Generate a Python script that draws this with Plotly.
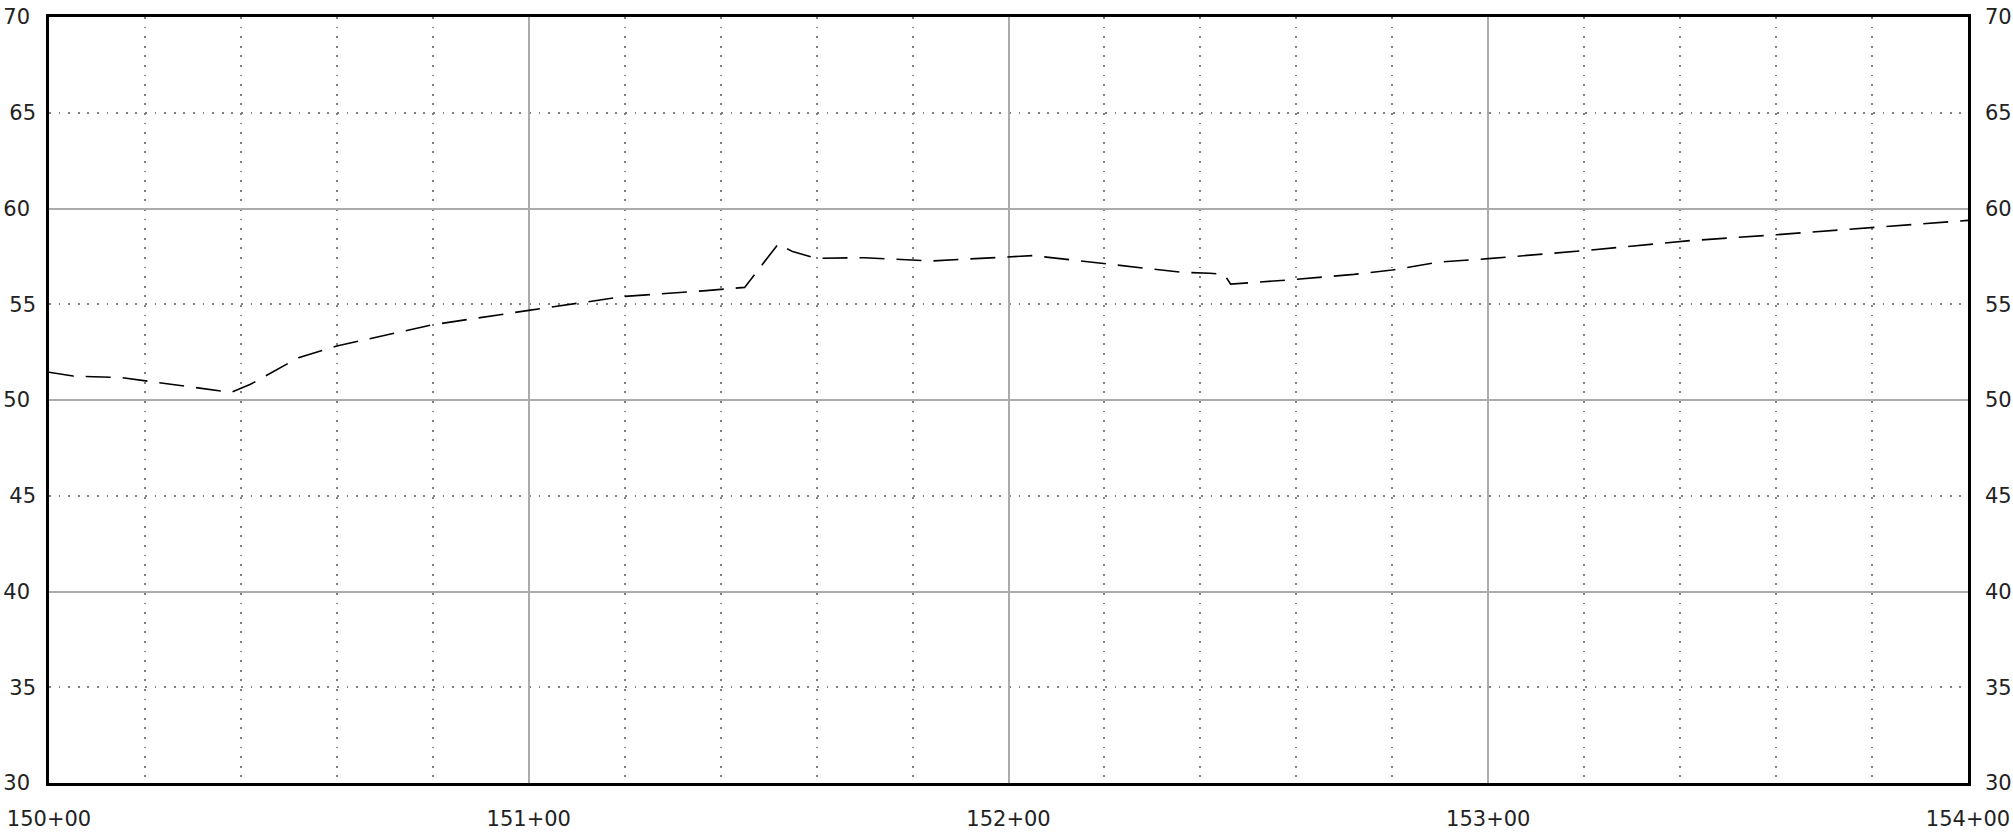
import plotly.graph_objects as go

# Profil en long : stations (pieds) et altitudes
stations = [15000, 15005, 15015, 15020, 15036, 15038, 15042, 15048, 15052, 15060,
            15080, 15100, 15120, 15137, 15145, 15152, 15155, 15160, 15170, 15184,
            15192, 15205, 15214, 15220, 15236, 15242, 15245, 15246.3, 15260, 15272,
            15280, 15290, 15300, 15320, 15342, 15360, 15380, 15400]
elevations = [51.45, 51.25, 51.17, 51.0, 50.48, 50.40, 50.82, 51.65, 52.21, 52.82,
              53.93, 54.68, 55.41, 55.71, 55.88, 58.15, 57.75, 57.40, 57.43, 57.26,
              57.36, 57.54, 57.29, 57.12, 56.67, 56.62, 56.55, 56.05, 56.30, 56.56,
              56.79, 57.21, 57.38, 57.80, 58.32, 58.63, 59.00, 59.38]

x_tickvals = [15000, 15100, 15200, 15300, 15400]
x_ticktext = ["150+00", "151+00", "152+00", "153+00", "154+00"]
y_tickvals = [30, 35, 40, 45, 50, 55, 60, 65, 70]
y_major = [30, 40, 50, 60, 70]
y_half = [35, 45, 55, 65]

FONT = dict(family="DejaVu Sans", size=21, color="#222222")
MAJOR = "#ababab"
MINOR = "#808080"
DOTS = "1.8px,7.8px"

fig = go.Figure()
fig.add_trace(go.Scatter(
    x=stations, y=elevations, mode="lines",
    line=dict(color="black", width=1.6, dash="25px,12px"),
    showlegend=False, hoverinfo="skip",
))
# copies invisibles pour que les axes superposés (libellés) soient dessinés
for ax in ("y2", "y3"):
    fig.add_trace(go.Scatter(
        x=stations, y=elevations, yaxis=ax, mode="lines", opacity=0,
        line=dict(width=0), showlegend=False, hoverinfo="skip",
    ))

yrange = [30, 70]
fig.update_layout(
    width=2013, height=838,
    margin=dict(l=49, r=45, t=17, b=55),
    paper_bgcolor="white", plot_bgcolor="white",
    font=FONT,
    xaxis=dict(
        range=[15000, 15400], tickvals=x_tickvals, ticktext=x_ticktext,
        showgrid=True, gridcolor=MAJOR, gridwidth=1.5,
        minor=dict(dtick=20, tick0=15000, showgrid=True, gridcolor=MINOR,
                   gridwidth=1.8, griddash=DOTS),
        showline=True, linecolor="black", linewidth=2.5, mirror=True,
        ticks="", ticklabelstandoff=15, zeroline=False, automargin=False,
    ),
    # axe gauche : grille pleine tous les 10, pointillée tous les 5
    yaxis=dict(
        range=yrange, tickvals=y_major,
        showgrid=True, gridcolor=MAJOR, gridwidth=1.5,
        minor=dict(dtick=5, tick0=30, showgrid=True, gridcolor=MINOR,
                   gridwidth=1.8, griddash=DOTS),
        zeroline=False, automargin=False,
        showline=True, linecolor="black", linewidth=2.5, mirror=True,
        ticks="", ticklabelstandoff=12,
    ),
    # axe droit : libellés seulement
    yaxis2=dict(
        range=yrange, tickvals=y_tickvals, overlaying="y", side="right",
        showgrid=False, zeroline=False, showline=False, automargin=False,
        ticks="", ticklabelstandoff=16,
    ),
    # libellés intermédiaires à gauche
    yaxis3=dict(
        range=yrange, tickvals=y_half, overlaying="y", side="left",
        showgrid=False, zeroline=False, showline=False, automargin=False,
        ticks="", ticklabelstandoff=12,
    ),
)

# pas de marge de page : la figure occupe toute la fenêtre
fig.write_html("out.html", config={"displayModeBar": False},
               post_script="document.body.style.margin='0';")
